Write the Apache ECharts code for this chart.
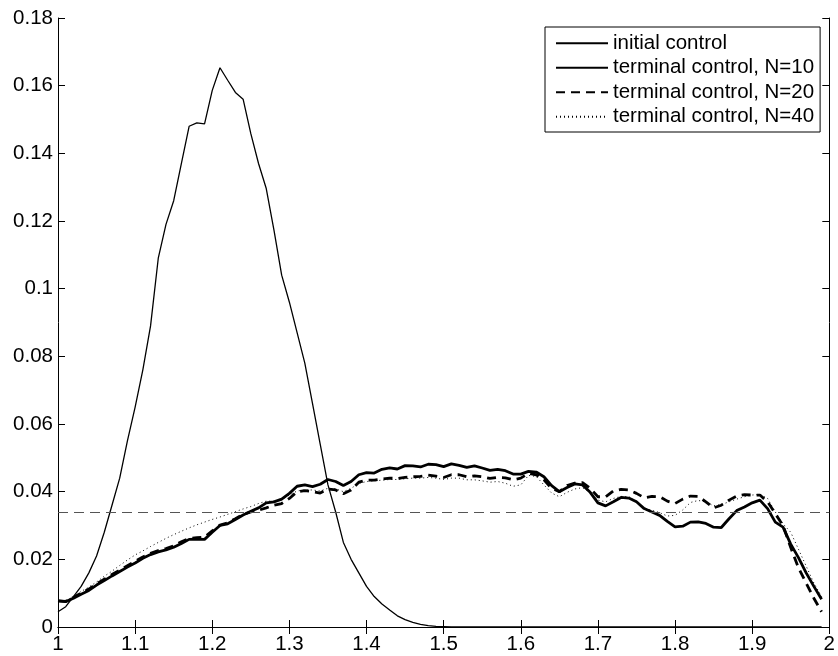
<!DOCTYPE html>
<html>
<head>
<meta charset="utf-8">
<script src="https://cdn.jsdelivr.net/npm/echarts@6/dist/echarts.min.js"></script>
<style>
  html, body { margin: 0; padding: 0; background: #fff; }
  #chart { width: 838px; height: 656px; }
</style>
</head>
<body>
<div id="chart"></div>
<script>
// sample positions (x)
var xValues = [
  1.00, 1.01, 1.02, 1.03, 1.04, 1.05, 1.06, 1.07, 1.08, 1.09,
  1.10, 1.11, 1.12, 1.13, 1.14, 1.15, 1.16, 1.17, 1.18, 1.19,
  1.20, 1.21, 1.22, 1.23, 1.24, 1.25, 1.26, 1.27, 1.28, 1.29,
  1.30, 1.31, 1.32, 1.33, 1.34, 1.35, 1.36, 1.37, 1.38, 1.39,
  1.40, 1.41, 1.42, 1.43, 1.44, 1.45, 1.46, 1.47, 1.48, 1.49,
  1.50, 1.51, 1.52, 1.53, 1.54, 1.55, 1.56, 1.57, 1.58, 1.59,
  1.60, 1.61, 1.62, 1.63, 1.64, 1.65, 1.66, 1.67, 1.68, 1.69,
  1.70, 1.71, 1.72, 1.73, 1.74, 1.75, 1.76, 1.77, 1.78, 1.79,
  1.80, 1.81, 1.82, 1.83, 1.84, 1.85, 1.86, 1.87, 1.88, 1.89,
  1.90, 1.91, 1.92, 1.93, 1.94, 1.95, 1.96, 1.97, 1.98, 1.99
];

var initialControl = [
  0.0045, 0.0060, 0.0090, 0.0120, 0.0160, 0.0210, 0.0280, 0.0360, 0.0440, 0.0550,
  0.0650, 0.0760, 0.0890, 0.1090, 0.1190, 0.1260, 0.1370, 0.1480, 0.1490, 0.1487,
  0.1586, 0.1653, 0.1616, 0.1580, 0.1560, 0.1458, 0.1370, 0.1296, 0.1173, 0.1040,
  0.0960, 0.0870, 0.0780, 0.0660, 0.0540, 0.0420, 0.0340, 0.0250, 0.0200, 0.0160,
  0.0120, 0.0090, 0.0068, 0.0050, 0.0033, 0.0022, 0.0014, 0.0008, 0.0004, 0.0002,
  0.0001, 0, 0, 0, 0, 0, 0, 0, 0, 0,
  0, 0, 0, 0, 0, 0, 0, 0, 0, 0,
  0, 0, 0, 0, 0, 0, 0, 0, 0, 0,
  0, 0, 0, 0, 0, 0, 0, 0, 0, 0,
  0, 0, 0, 0, 0, 0, 0, 0, 0, 0
];

var terminalN10 = [
  0.0077, 0.0075, 0.0085, 0.0097, 0.0108, 0.0124, 0.0137, 0.0151, 0.0164, 0.0177,
  0.0189, 0.0203, 0.0214, 0.0222, 0.0228, 0.0236, 0.0247, 0.0259, 0.0260, 0.0259,
  0.0280, 0.0300, 0.0305, 0.0318, 0.0331, 0.0342, 0.0352, 0.0367, 0.0370, 0.0378,
  0.0395, 0.0416, 0.0420, 0.0415, 0.0422, 0.0436, 0.0430, 0.0418, 0.0430, 0.0450,
  0.0456, 0.0455, 0.0466, 0.0470, 0.0467, 0.0477, 0.0476, 0.0473, 0.0481, 0.0480,
  0.0474, 0.0482, 0.0478, 0.0472, 0.0476, 0.0470, 0.0463, 0.0466, 0.0462, 0.0452,
  0.0452, 0.0460, 0.0458, 0.0444, 0.0418, 0.0400, 0.0412, 0.0423, 0.0420, 0.0398,
  0.0367, 0.0358, 0.0370, 0.0383, 0.0381, 0.0370, 0.0350, 0.0340, 0.0330, 0.0312,
  0.0296, 0.0298, 0.0310, 0.0311, 0.0306, 0.0295, 0.0294, 0.0320, 0.0344, 0.0355,
  0.0367, 0.0375, 0.0350, 0.0310, 0.0295, 0.0245, 0.0205, 0.0160, 0.0120, 0.0082
];

var terminalN20 = [
  0.0077, 0.0076, 0.0087, 0.0100, 0.0112, 0.0127, 0.0141, 0.0155, 0.0168, 0.0181,
  0.0194, 0.0207, 0.0218, 0.0226, 0.0232, 0.0240, 0.0252, 0.0262, 0.0264, 0.0266,
  0.0284, 0.0301, 0.0308, 0.0320, 0.0333, 0.0340, 0.0345, 0.0352, 0.0360, 0.0365,
  0.0380, 0.0400, 0.0403, 0.0400, 0.0396, 0.0408, 0.0405, 0.0394, 0.0405, 0.0428,
  0.0434, 0.0434, 0.0437, 0.0440, 0.0439, 0.0442, 0.0444, 0.0445, 0.0449, 0.0446,
  0.0442, 0.0450, 0.0450, 0.0444, 0.0447, 0.0444, 0.0439, 0.0442, 0.0441, 0.0435,
  0.0440, 0.0454, 0.0450, 0.0435, 0.0410, 0.0400, 0.0418, 0.0425, 0.0427, 0.0410,
  0.0385, 0.0385, 0.0402, 0.0407, 0.0405, 0.0395, 0.0382, 0.0386, 0.0385, 0.0372,
  0.0365, 0.0378, 0.0387, 0.0386, 0.0370, 0.0352, 0.0360, 0.0375, 0.0387, 0.0391,
  0.0390, 0.0390, 0.0370, 0.0335, 0.0300, 0.0235, 0.0175, 0.0130, 0.0085, 0.0045
];

var terminalN40 = [
  0.0077, 0.0078, 0.0090, 0.0105, 0.0118, 0.0133, 0.0150, 0.0165, 0.0182, 0.0198,
  0.0213, 0.0225, 0.0238, 0.0250, 0.0262, 0.0273, 0.0283, 0.0293, 0.0302, 0.0310,
  0.0318, 0.0325, 0.0333, 0.0341, 0.0349, 0.0356, 0.0365, 0.0372, 0.0372, 0.0376,
  0.0390, 0.0402, 0.0405, 0.0405, 0.0402, 0.0410, 0.0408, 0.0400, 0.0410, 0.0424,
  0.0430, 0.0432, 0.0434, 0.0436, 0.0436, 0.0438, 0.0440, 0.0440, 0.0442, 0.0440,
  0.0436, 0.0440, 0.0440, 0.0435, 0.0435, 0.0432, 0.0428, 0.0430, 0.0425, 0.0416,
  0.0420, 0.0448, 0.0445, 0.0420, 0.0396, 0.0385, 0.0398, 0.0408, 0.0412, 0.0398,
  0.0375, 0.0370, 0.0380, 0.0386, 0.0385, 0.0372, 0.0352, 0.0345, 0.0338, 0.0328,
  0.0330, 0.0346, 0.0368, 0.0374, 0.0370, 0.0358, 0.0362, 0.0370, 0.0378, 0.0385,
  0.0390, 0.0392, 0.0380, 0.0340, 0.0305, 0.0280, 0.0230, 0.0180, 0.0130, 0.0090
];

var referenceLevel = 0.034;
var seriesNames = ["initial control", "terminal control, N=10", "terminal control, N=20", "terminal control, N=40"];

function pairs(ys) {
  return xValues.map(function (x, i) { return [x, ys[i]]; });
}

var chart = echarts.init(document.getElementById("chart"));
var font = "Liberation Sans, Arial, sans-serif";

var tickLabel = { fontSize: 20.5, color: "#000", fontFamily: font };

var option = {
  animation: false,
  backgroundColor: "#fff",
  grid: { left: 58, right: 8, top: 18, bottom: 29 },
  legend: {
    orient: "vertical",
    left: 545,
    top: 27,
    data: seriesNames,
    backgroundColor: "#fff",
    borderColor: "#000",
    borderWidth: 1,
    padding: [4, 6, 3, 10],
    itemWidth: 52,
    itemHeight: 14,
    itemGap: 0,
    itemStyle: { opacity: 0 },
    textStyle: { fontSize: 20.5, color: "#000", fontFamily: font, lineHeight: 24.5 },
  },
  xAxis: [
    {
      type: "value",
      min: 1,
      max: 2,
      interval: 0.1,
      axisLine: { lineStyle: { color: "#000", width: 1 } },
      axisTick: { inside: true, length: 7, lineStyle: { color: "#000" } },
      axisLabel: Object.assign({ margin: 7 }, tickLabel),
      splitLine: { show: false },
    },
    {
      type: "value",
      position: "top",
      min: 1,
      max: 2,
      interval: 0.1,
      axisLine: { lineStyle: { color: "#000", width: 1 } },
      axisTick: { inside: true, length: 7, lineStyle: { color: "#000" } },
      axisLabel: { show: false },
      splitLine: { show: false },
    },
  ],
  yAxis: [
    {
      type: "value",
      min: 0,
      max: 0.18,
      interval: 0.02,
      axisLine: { show: true, lineStyle: { color: "#000", width: 1 } },
      axisTick: { show: true, inside: true, length: 7, lineStyle: { color: "#000" } },
      axisLabel: Object.assign({ margin: 5 }, tickLabel),
      splitLine: { show: false },
    },
    {
      type: "value",
      position: "right",
      min: 0,
      max: 0.18,
      interval: 0.02,
      axisLine: { show: true, lineStyle: { color: "#000", width: 1 } },
      axisTick: { show: true, inside: true, length: 7, lineStyle: { color: "#000" } },
      axisLabel: { show: false },
      splitLine: { show: false },
    },
  ],
  series: [
    {
      name: seriesNames[0],
      type: "line",
      data: pairs(initialControl),
      symbol: "none",
      color: "#000",
      lineStyle: { color: "#000", width: 1.3 },
      markLine: {
        silent: true,
        symbol: "none",
        precision: 6,
        label: { show: false },
        lineStyle: { color: "#555", type: [10, 6], width: 1 },
        data: [{ yAxis: referenceLevel }],
      },
    },
    {
      name: seriesNames[1],
      type: "line",
      data: pairs(terminalN10),
      symbol: "none",
      color: "#000",
      lineStyle: { color: "#000", width: 2.8 },
    },
    {
      name: seriesNames[2],
      type: "line",
      data: pairs(terminalN20),
      symbol: "none",
      color: "#000",
      lineStyle: { color: "#000", width: 2.8, type: [9, 6] },
    },
    {
      name: seriesNames[3],
      type: "line",
      data: pairs(terminalN40),
      symbol: "none",
      color: "#000",
      lineStyle: { color: "#000", width: 1, type: [1, 3] },
    },
  ],
};

chart.setOption(option);
window.addEventListener("resize", function () {
  chart.resize();
});
</script>
</body>
</html>
